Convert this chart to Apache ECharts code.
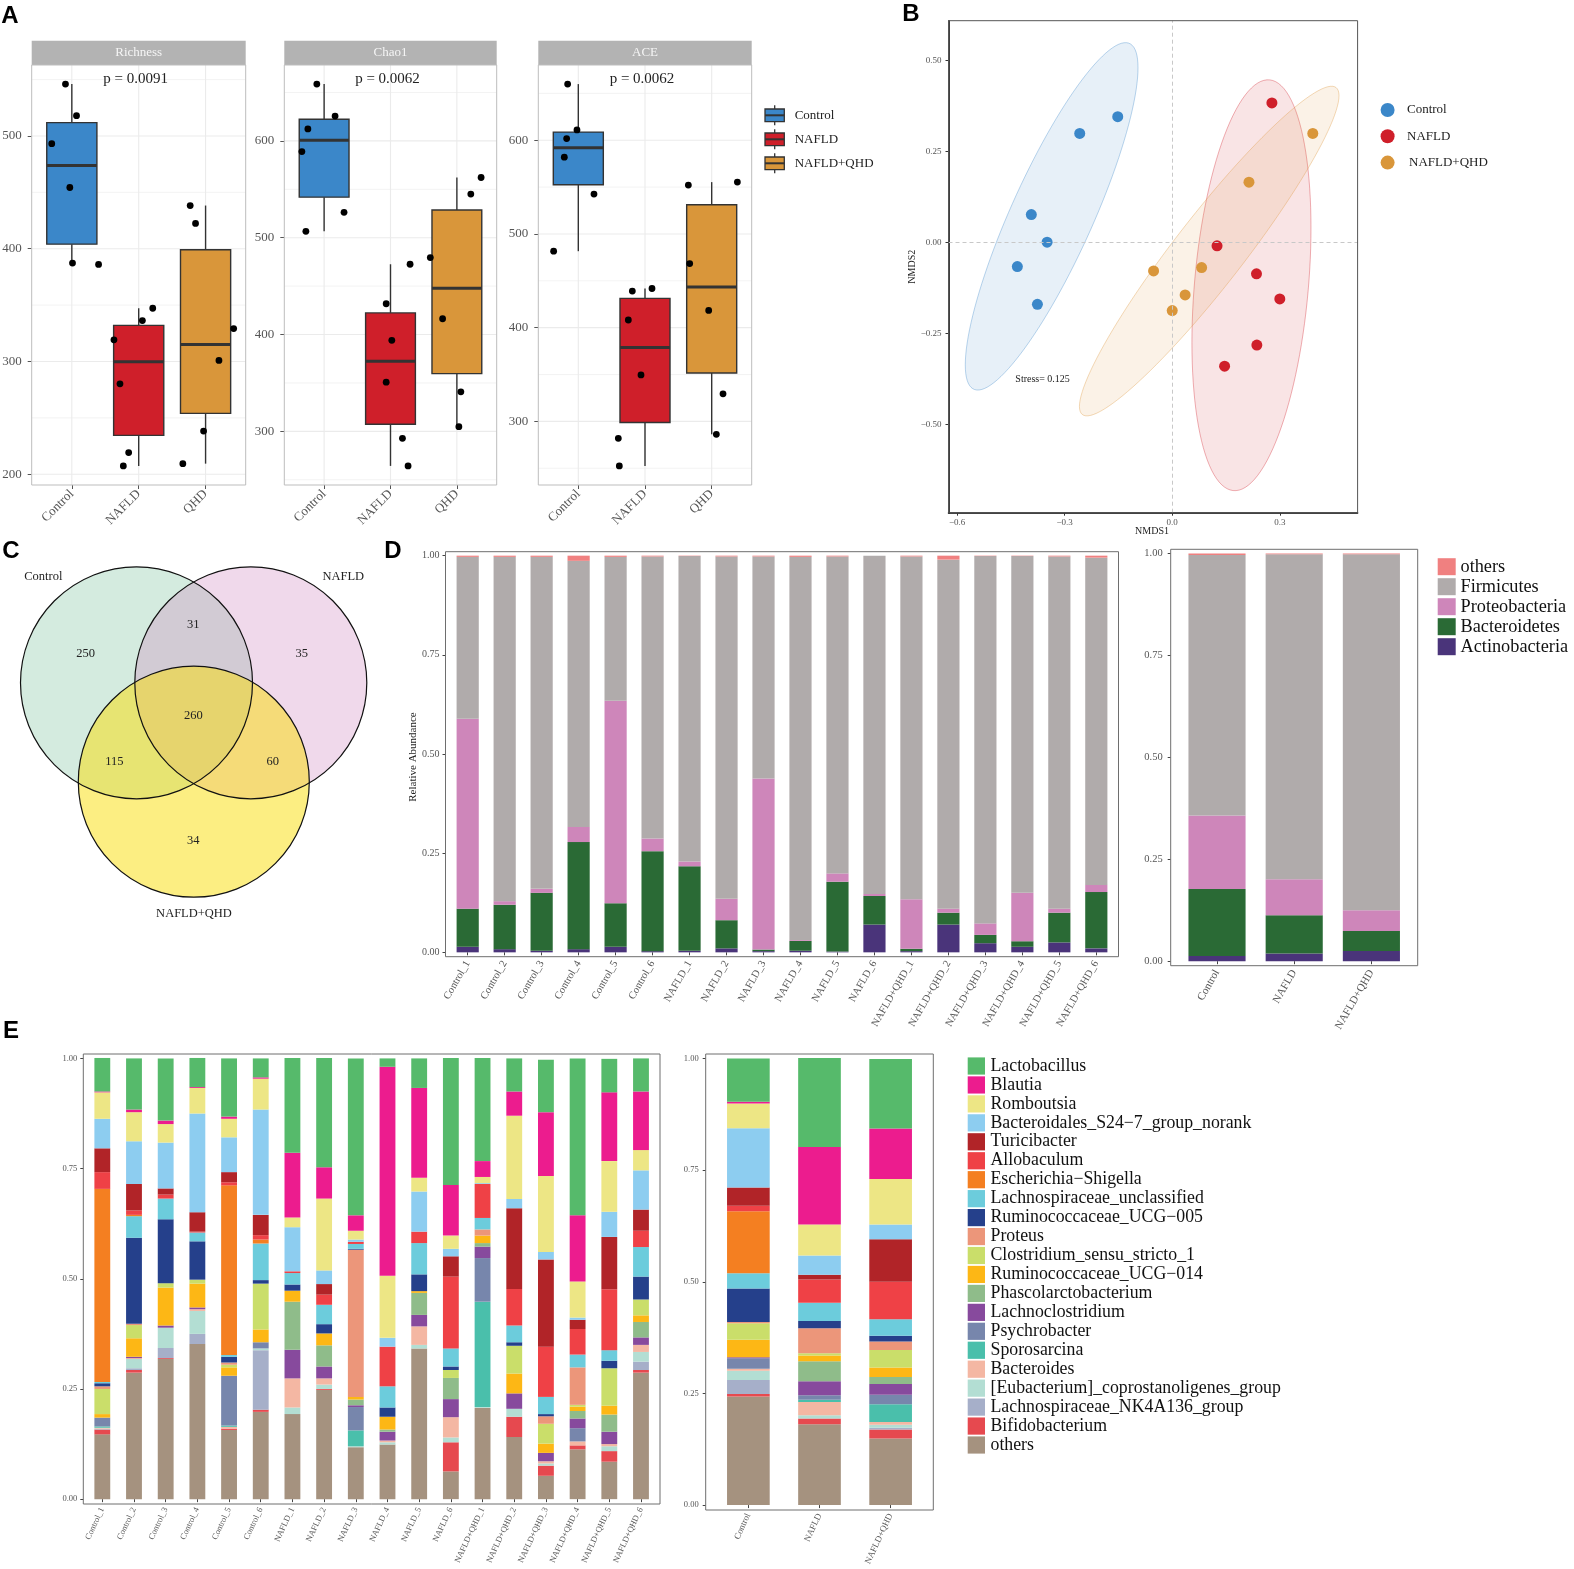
<!DOCTYPE html>
<html><head><meta charset="utf-8">
<script src="https://cdn.jsdelivr.net/npm/echarts@6/dist/echarts.min.js"></script>
<style>html,body{margin:0;padding:0;background:#fff}#c{width:1574px;height:1569px}</style>
</head><body><div id="c"></div>
<script>
// ================= DATA =================
// Panel A: alpha diversity (six samples per group), jitter offsets (in category units)
const alphaGroups = ['Control', 'NAFLD', 'QHD'];
const alphaMetrics = ['Richness', 'Chao1', 'ACE'];
const alphaPValues = ['p = 0.0091', 'p = 0.0062', 'p = 0.0062'];
const richnessValues = [[546.0,518.0,493.2,454.3,387.3,386.1],[347.2,336.3,319.2,280.2,219.2,207.4],[438.3,422.4,329.2,300.9,238.3,209.4]];
const richnessJitter = [[-0.095,0.07,-0.30,-0.03,0.01,0.40],[0.21,0.055,-0.37,-0.28,-0.15,-0.23],[-0.23,-0.15,0.42,0.20,-0.03,-0.34]];
const chao1Values = [[658.7,625.7,612.4,589.0,526.2,506.6],[472.6,431.8,394.0,350.8,292.8,264.3],[562.2,545.1,479.5,416.3,340.8,304.8]];
const chao1Jitter = [[-0.11,0.165,-0.245,-0.335,0.30,-0.275],[0.295,-0.065,0.02,-0.065,0.18,0.265],[0.365,0.21,-0.40,-0.215,0.06,0.03]];
const aceValues = [[659.9,611.0,601.8,581.9,542.6,481.6],[441.8,439.0,408.2,349.6,281.9,252.5],[555.3,552.1,468.4,418.4,329.4,286.2]];
const aceJitter = [[-0.16,-0.02,-0.175,-0.21,0.235,-0.37],[0.105,-0.19,-0.25,-0.06,-0.40,-0.385],[0.385,-0.35,-0.33,-0.045,0.17,0.07]];
const alphaTicks = [[200,300,400,500],[300,400,500,600],[300,400,500,600]];
const legendGroups = ['Control', 'NAFLD', 'NAFLD+QHD'];

// Panel B: NMDS coordinates
const nmdsControl = [[-0.152,0.346],[-0.258,0.300],[-0.393,0.077],[-0.349,0.001],[-0.432,-0.066],[-0.376,-0.170]];
const nmdsNAFLD = [[0.278,0.384],[0.125,-0.009],[0.235,-0.086],[0.300,-0.155],[0.236,-0.282],[0.146,-0.340]];
const nmdsQHD = [[0.392,0.300],[0.214,0.166],[0.082,-0.069],[-0.052,-0.078],[0.036,-0.144],[0.000,-0.187]];
const nmdsXTicks = [-0.6, -0.3, 0, 0.3];
const nmdsYTicks = [-0.5, -0.25, 0, 0.25, 0.5];
const nmdsStress = 0.125;
const ellipseLevel = 0.9;

// Panel C: Venn counts (C only, C∩N, N only, C∩Q, C∩N∩Q, N∩Q, Q only)
const vennSets = ['Control', 'NAFLD', 'NAFLD+QHD'];
const vennCounts = [250, 31, 35, 115, 260, 60, 34];

// Panel D: phylum relative abundance (stack order bottom -> top)
const sampleNames = ['Control_1','Control_2','Control_3','Control_4','Control_5','Control_6','NAFLD_1','NAFLD_2','NAFLD_3','NAFLD_4','NAFLD_5','NAFLD_6','NAFLD+QHD_1','NAFLD+QHD_2','NAFLD+QHD_3','NAFLD+QHD_4','NAFLD+QHD_5','NAFLD+QHD_6'];
const groupNames = ['Control', 'NAFLD', 'NAFLD+QHD'];
const phylaNames = ['Actinobacteria', 'Bacteroidetes', 'Proteobacteria', 'Firmicutes', 'others'];
const actinobacteria = [0.014,0.008,0.004,0.008,0.014,0.003,0.004,0.010,0.003,0.004,0.002,0.070,0.003,0.070,0.023,0.014,0.025,0.010];
const bacteroidetes  = [0.096,0.112,0.146,0.270,0.110,0.252,0.213,0.071,0.004,0.025,0.176,0.072,0.006,0.030,0.021,0.014,0.075,0.142];
const proteobacteria = [0.479,0.009,0.010,0.038,0.510,0.032,0.012,0.054,0.431,0.002,0.021,0.005,0.125,0.010,0.029,0.122,0.010,0.018];
const firmicutes     = [0.408,0.868,0.837,0.671,0.363,0.711,0.770,0.863,0.560,0.966,0.799,0.853,0.864,0.880,0.926,0.849,0.888,0.825];
const othersPhylum   = [0.003,0.003,0.003,0.013,0.003,0.002,0.001,0.002,0.002,0.003,0.002,0.000,0.002,0.010,0.001,0.001,0.002,0.005];
const actinoGroup = [0.013,0.019,0.025];
const bacteroGroup = [0.164,0.094,0.049];
const proteoGroup = [0.180,0.088,0.051];
const firmiGroup = [0.639,0.797,0.873];
const othersGroup = [0.004,0.002,0.002];

// Panel E: genus relative abundance (%), stack order bottom -> top
const genusNames = ['others','Bifidobacterium','Lachnospiraceae_NK4A136_group','[Eubacterium]_coprostanoligenes_group','Bacteroides','Sporosarcina','Psychrobacter','Lachnoclostridium','Phascolarctobacterium','Ruminococcaceae_UCG\u2212014','Clostridium_sensu_stricto_1','Proteus','Ruminococcaceae_UCG\u2212005','Lachnospiraceae_unclassified','Escherichia\u2212Shigella','Allobaculum','Turicibacter','Bacteroidales_S24\u22127_group_norank','Romboutsia','Blautia','Lactobacillus'];
const gControl_1 = [14.7,1.1,0.1,0.1,0.2,0.3,2.0,0,0,0.8,5.7,0.6,0.7,0.3,43.8,3.8,5.4,6.7,6.0,0.2,7.6];
const gControl_2 = [28.7,0.6,0.4,2.1,0.2,0,0,0.3,0,4.2,3.0,0.3,19.5,4.9,0.3,1.0,6.0,9.7,6.6,0.6,11.6];
const gControl_3 = [31.8,0.2,2.3,4.6,0,0,0,0.5,0,8.6,1.0,0,14.5,4.7,0,0.9,1.4,10.4,4.2,0.8,14.1];
const gControl_4 = [35.2,0,2.3,5.2,0.4,0,0,0.4,0,5.4,0.9,0,8.7,2.0,0,0.2,4.4,22.4,5.8,0.2,6.6];
const gControl_5 = [15.7,0.3,0,0,0.4,0.3,11.3,0,0,1.9,0.6,0.5,1.3,0.4,38.5,0.7,2.3,7.9,4.2,0.5,13.2];
const gControl_6 = [19.8,0.5,13.5,0.4,0,0,1.4,0,0,2.9,10.4,0,0.8,8.3,0.9,1.0,4.6,23.9,7.0,0.3,4.3];
const gNAFLD_1 = [19.3,0,0,1.5,6.6,0,0,6.5,10.9,2.5,0,0,1.4,2.6,0,0.4,0,10.0,2.2,14.7,21.5];
const gNAFLD_2 = [24.8,0.2,0,1.0,1.4,0,0,2.7,4.8,2.7,0,0,2.1,4.4,0,2.3,2.4,3.1,16.3,7.1,24.8];
const gNAFLD_3 = [11.8,0,0,0.2,0,3.6,5.3,0.4,1.3,0.6,0,33.4,0.2,1.1,0,0.5,0,0.5,2.0,3.5,35.6];
const gNAFLD_4 = [12.4,0,0,0.5,0.4,0,0,2.0,0.5,2.9,0,0,2.1,4.8,0,9.0,0,2.0,14.1,47.4,1.9];
const gNAFLD_5 = [34.2,0,0,0.8,4.2,0,0,2.6,5.0,0.4,0,0,3.8,7.1,0,2.6,0,9.1,3.1,20.4,6.7];
const gNAFLD_6 = [6.3,6.6,0,1.1,4.6,0,0,4.1,4.8,0,1.8,0,0.8,4.1,0,16.3,4.6,1.7,3.0,11.5,28.8];
const gQHD_1 = [20.7,0,0,0.2,0,23.9,9.9,2.6,0.8,1.7,0,1.4,0,2.6,0,7.7,0,0.2,1.4,3.6,23.4];
const gQHD_2 = [14.1,4.6,0,1.8,0,0,0,3.5,0,4.5,6.3,0,0.8,3.8,0,8.3,18.3,2.1,18.9,5.5,7.5];
const gQHD_3 = [5.3,2.3,0,0.5,0.5,0,0,1.9,0,2.1,4.5,1.7,0.5,3.9,0,11.4,19.8,1.7,17.2,14.5,11.9];
const gQHD_4 = [11.3,0.9,0,0,0.9,0,3.0,2.2,1.7,1.0,0.4,8.5,0,2.9,0,5.8,2.1,0.5,8.2,15.0,35.6];
const gQHD_5 = [8.5,2.4,0,1.1,0.5,0,0,2.8,3.9,2.0,8.5,0,1.7,2.4,0,13.8,11.9,5.7,11.5,15.6,7.6];
const gQHD_6 = [28.7,0.6,1.9,2.2,1.6,0,0,1.7,3.5,1.5,3.6,0,5.2,6.7,0,3.7,4.8,8.9,4.6,13.3,7.5];
const gGroupControl = [24.3,0.6,3.1,2.1,0.4,0,2.4,0.2,0,3.9,3.7,0.3,7.5,3.4,13.9,1.2,4.1,13.3,5.5,0.4,9.7];
const gGroupNAFLD = [18.1,1.3,0,0.7,3.0,0.5,1.0,3.1,4.5,1.3,0.5,5.6,1.6,4.1,0,5.2,1.1,4.3,6.9,17.4,19.9];
const gGroupQHD = [14.9,2.0,0.4,0.7,0.6,4.0,2.1,2.4,1.6,2.1,3.9,1.9,1.3,3.7,0,8.4,9.5,3.3,10.2,11.3,15.6];
const abundanceTicks = [0, 0.25, 0.5, 0.75, 1];

// ================= STYLE / LAYOUT =================
const SERIF = "'Liberation Serif','Times New Roman',serif";
const SANS = "'Liberation Sans',Arial,sans-serif";
const AXC = '#555';
const groupColors = ['#3B87C9', '#CF1F2A', '#D9963A'];
const groupRGB = [[59,135,201],[208,31,42],[220,150,56]];
const phylaColors = ['#4A347A', '#2A6A35', '#CE86BA', '#B0ABAB', '#F08080'];
const genusColors = ['#A5927F','#E6494F','#A6AFC9','#B3DED3','#F4B7A3','#4ABFAB','#7786AC','#874A9D','#8FBC8A','#FDB715','#CADE6A','#EC967A','#25408B','#6CCCDC','#F47F21','#EF4146','#B12428','#8DCDF0','#EDE685','#EC1C8E','#56BA6B'];

const frameA = [{x:31.7,y:65,w:214,h:420},{x:284.3,y:65,w:212.4,h:420},{x:538.3,y:65,w:213.4,h:420}];
const stripTop = 40.7;
const frameB = {x:948.5,y:20.7,w:409.1,h:492};
const frameDL = {x:445.5,y:551.7,w:673,h:405};
const frameDR = {x:1170.7,y:549.3,w:247,h:416.4};
const frameEL = {x:83.3,y:1054,w:576.7,h:450};
const frameER = {x:705.7,y:1054,w:227.6,h:456};

function gridOf(f, n) {
  const u = n ? f.w / (n + 0.2) : 0;
  return { grid: { left: f.x + 0.1 * u, top: f.y, width: f.w - 0.2 * u, height: f.h, containLabel: false, outerBoundsMode: 'none' }, inset: 0.1 * u };
}
function q7(s, p) { const h = (s.length - 1) * p; const lo = Math.floor(h); const hi = Math.min(lo + 1, s.length - 1); return s[lo] + (h - lo) * (s[hi] - s[lo]); }
function boxStats(vals) {
  const s = vals.slice().sort((a, b) => a - b);
  const q1 = q7(s, 0.25), med = q7(s, 0.5), q3 = q7(s, 0.75), iqr = q3 - q1;
  const lo = s.find(v => v >= q1 - 1.5 * iqr);
  const hi = s.slice().reverse().find(v => v <= q3 + 1.5 * iqr);
  return [lo, q1, med, q3, hi];
}
const fmtMinus = (v, d) => (v < 0 ? '\u2212' : '') + Math.abs(v).toFixed(d);

// robust covariance (as MASS::cov.trob) for the group ellipses
function covTrob(pts) {
  const nu = 5, p = 2, n = pts.length;
  let loc = [pts.reduce((s, q) => s + q[0], 0) / n, pts.reduce((s, q) => s + q[1], 0) / n];
  let w = new Array(n).fill(1), X;
  for (let it = 0; it < 25; it++) {
    const w0 = w.slice();
    X = pts.map(q => [q[0] - loc[0], q[1] - loc[1]]);
    const sw = w.reduce((a, b) => a + b, 0);
    let a = 0, b = 0, c = 0;
    X.forEach((d, i) => { a += w[i] / sw * d[0] * d[0]; b += w[i] / sw * d[0] * d[1]; c += w[i] / sw * d[1] * d[1]; });
    const det = a * c - b * b;
    const Q = X.map(d => (c * d[0] * d[0] - 2 * b * d[0] * d[1] + a * d[1] * d[1]) / det);
    w = Q.map(q => (nu + p) / (nu + q));
    const sw2 = w.reduce((s, v) => s + v, 0);
    loc = [pts.reduce((s, q, i) => s + w[i] * q[0], 0) / sw2, pts.reduce((s, q, i) => s + w[i] * q[1], 0) / sw2];
    if (w.every((v, i) => Math.abs(v - w0[i]) < 0.01)) break;
  }
  let a = 0, b = 0, c = 0;
  X.forEach((d, i) => { a += w[i] * d[0] * d[0]; b += w[i] * d[0] * d[1]; c += w[i] * d[1] * d[1]; });
  return { center: loc, cov: [a / n, b / n, c / n] };
}
function ellipseOf(pts) {
  const { center, cov } = covTrob(pts);
  const dfd = pts.length - 1;
  // qf(level, 2, dfd) in closed form for dfn = 2
  const fq = (dfd / 2) * (Math.pow(1 - ellipseLevel, -2 / dfd) - 1);
  const radius = Math.sqrt(2 * fq);
  const a = Math.sqrt(cov[0]), b = cov[1] / a, c = Math.sqrt(Math.max(cov[2] - b * b, 0));
  const out = [];
  for (let i = 0; i <= 120; i++) {
    const t = i / 120 * 2 * Math.PI;
    out.push([center[0] + radius * a * Math.cos(t), center[1] + radius * (b * Math.cos(t) + c * Math.sin(t))]);
  }
  return out;
}

// ================= BUILD OPTION =================
const grids = [], xAxes = [], yAxes = [], series = [], gfx = [];
const alphaValues = [richnessValues, chao1Values, aceValues];
const alphaJitter = [richnessJitter, chao1Jitter, aceJitter];
const TXT = (x, y, text, font, fill, align, extra) => Object.assign({ type: 'text', z: 101, x, y, style: { text, font, fill, textAlign: align, align, textVerticalAlign: 'middle', verticalAlign: 'middle' } }, extra || {});

// ---- Panel A ----
alphaMetrics.forEach((metric, i) => {
  const f = frameA[i];
  const g = gridOf(f, 3);
  grids.push(g.grid);
  const vals = alphaValues[i];
  const all = vals.flat();
  const mn = Math.min(...all), mx = Math.max(...all), r = mx - mn;
  const ymin = mn - 0.05 * r, ymax = mx + 0.05 * r;
  const ticks = alphaTicks[i];
  xAxes.push({ type: 'category', gridIndex: i, data: alphaGroups, axisLine: { show: false },
    axisTick: { show: true, alignWithLabel: true, length: 4, lineStyle: { color: AXC } },
    axisLabel: { rotate: 45, interval: 0, fontSize: 13, fontFamily: SERIF, color: AXC, margin: 7 }, splitLine: { show: false } });
  yAxes.push({ type: 'value', gridIndex: i, min: ymin, max: ymax, offset: g.inset, axisLine: { show: false },
    axisTick: { show: true, length: 4, customValues: ticks, lineStyle: { color: AXC } },
    axisLabel: { customValues: ticks, fontSize: 13, fontFamily: SERIF, color: AXC, margin: 10 }, splitLine: { show: false } });
  const step = ticks[1] - ticks[0];
  const gl = [];
  ticks.forEach(t => gl.push([0, t, 0]));
  for (let v = ticks[0] - step / 2; v <= ymax; v += step) if (v >= ymin) gl.push([0, v, 1]);
  alphaGroups.forEach((_, c) => gl.push([c, 0, 2]));
  series.push({ type: 'custom', xAxisIndex: i, yAxisIndex: i, z: 1, silent: true, encode: { x: 0, y: 1 }, data: gl,
    renderItem: (params, api) => {
      const kind = api.value(2);
      if (kind === 2) {
        const x = api.coord([api.value(0), ymin])[0];
        return { type: 'line', shape: { x1: x, y1: f.y, x2: x, y2: f.y + f.h }, style: { stroke: '#EBEBEB', lineWidth: 1.1 } };
      }
      const y = api.coord([0, api.value(1)])[1];
      return { type: 'line', shape: { x1: f.x, y1: y, x2: f.x + f.w, y2: y }, style: { stroke: '#EBEBEB', lineWidth: kind === 0 ? 1.1 : 0.6 } };
    } });
  series.push({ type: 'custom', xAxisIndex: i, yAxisIndex: i, z: 2, silent: true, encode: { x: 0, y: 3 },
    data: vals.map((v, c) => [c].concat(boxStats(v))),
    renderItem: (params, api) => {
      const c = api.value(0);
      const band = api.size([1, 0])[0];
      const hw = band * 0.75 / 2;
      const P = v => api.coord([c, v]);
      const xc = P(api.value(3))[0];
      const yLo = P(api.value(1))[1], yQ1 = P(api.value(2))[1], yMed = P(api.value(3))[1], yQ3 = P(api.value(4))[1], yHi = P(api.value(5))[1];
      const st = { stroke: '#333', lineWidth: 1.4 };
      return { type: 'group', children: [
        { type: 'line', shape: { x1: xc, y1: yHi, x2: xc, y2: yQ3 }, style: st },
        { type: 'line', shape: { x1: xc, y1: yQ1, x2: xc, y2: yLo }, style: st },
        { type: 'rect', shape: { x: xc - hw, y: yQ3, width: 2 * hw, height: yQ1 - yQ3 }, style: { fill: groupColors[c], stroke: '#333', lineWidth: 1.4 } },
        { type: 'line', shape: { x1: xc - hw, y1: yMed, x2: xc + hw, y2: yMed }, style: { stroke: '#333', lineWidth: 3 } }
      ] };
    } });
  const pts = [];
  vals.forEach((arr, c) => arr.forEach((v, k) => pts.push([c, v, alphaJitter[i][c][k]])));
  series.push({ type: 'custom', xAxisIndex: i, yAxisIndex: i, z: 3, silent: true, encode: { x: 0, y: 1 }, data: pts,
    renderItem: (params, api) => {
      const band = api.size([1, 0])[0];
      const p = api.coord([api.value(0), api.value(1)]);
      return { type: 'circle', shape: { cx: p[0] + api.value(2) * band, cy: p[1], r: 3.4 }, style: { fill: '#000' } };
    } });
  gfx.push({ type: 'rect', z: 100, shape: { x: f.x, y: stripTop, width: f.w, height: f.y - stripTop }, style: { fill: '#B3B3B3' } });
  gfx.push(TXT(f.x + f.w / 2, (stripTop + f.y) / 2, metric, '13px ' + SERIF, '#F5F5F5', 'center'));
  gfx.push({ type: 'rect', z: 100, shape: { x: f.x, y: f.y, width: f.w, height: f.h }, style: { fill: 'none', stroke: '#BDBDBD', lineWidth: 1 } });
  gfx.push(TXT(f.x + f.w / 2 - 3, 79, alphaPValues[i], '15px ' + SERIF, '#222', 'center'));
});
legendGroups.forEach((name, k) => {
  const cy = 115.3 + 24 * k;
  gfx.push({ type: 'line', z: 100, shape: { x1: 774.7, y1: cy - 10, x2: 774.7, y2: cy + 10 }, style: { stroke: '#333', lineWidth: 1.3 } });
  gfx.push({ type: 'rect', z: 101, shape: { x: 765, y: cy - 6.3, width: 19.3, height: 12.6 }, style: { fill: groupColors[k], stroke: '#333', lineWidth: 1.3 } });
  gfx.push({ type: 'line', z: 102, shape: { x1: 765, y1: cy, x2: 784.3, y2: cy }, style: { stroke: '#333', lineWidth: 2 } });
  gfx.push(TXT(794.7, cy, name, '13px ' + SERIF, '#222', 'left'));
});

// ---- Panel B ----
const nmdsSets = [nmdsControl, nmdsNAFLD, nmdsQHD];
const ellipses = nmdsSets.map(ellipseOf);
{
  const g = gridOf(frameB, 0);
  grids.push(g.grid);
  xAxes.push({ type: 'value', gridIndex: 3, min: -0.624, max: 0.517,
    axisLine: { show: true, onZero: false, lineStyle: { color: '#000', width: 1.5 } },
    axisTick: { show: true, length: 3, customValues: nmdsXTicks, lineStyle: { color: '#333' } },
    axisLabel: { customValues: nmdsXTicks, formatter: v => fmtMinus(v, 1), fontSize: 9, fontFamily: SERIF, color: AXC, margin: 5 }, splitLine: { show: false } });
  yAxes.push({ type: 'value', gridIndex: 3, min: -0.743, max: 0.61,
    axisLine: { show: true, onZero: false, lineStyle: { color: '#000', width: 1.5 } },
    axisTick: { show: true, length: 3, customValues: nmdsYTicks, lineStyle: { color: '#333' } },
    axisLabel: { customValues: nmdsYTicks, formatter: v => fmtMinus(v, 2), fontSize: 9, fontFamily: SERIF, color: AXC, margin: 7 }, splitLine: { show: false } });
  series.push({ type: 'custom', xAxisIndex: 3, yAxisIndex: 3, z: 1, silent: true, data: [[0, 0], [1, 0], [2, 0]],
    renderItem: (params, api) => {
      const k = params.dataIndex; const c = groupRGB[k];
      return { type: 'polygon', shape: { points: ellipses[k].map(p => api.coord(p)) },
        style: { fill: `rgba(${c[0]},${c[1]},${c[2]},0.12)`, stroke: `rgba(${c[0]},${c[1]},${c[2]},0.35)`, lineWidth: 1 } };
    } });
  nmdsSets.forEach((pts, k) => {
    const s = { type: 'scatter', name: legendGroups[k], xAxisIndex: 3, yAxisIndex: 3, z: 3, symbolSize: 11, data: pts, itemStyle: { color: groupColors[k], opacity: 1 } };
    if (k === 0) s.markLine = { silent: true, symbol: ['none', 'none'], label: { show: false }, lineStyle: { color: '#C8C8C8', type: [4, 3], width: 1 }, data: [{ xAxis: 0 }, { yAxis: 0 }] };
    series.push(s);
  });
  gfx.push({ type: 'rect', z: 100, shape: { x: frameB.x, y: frameB.y, width: frameB.w, height: frameB.h }, style: { fill: 'none', stroke: '#555', lineWidth: 1 } });
  gfx.push(TXT(1042.6, 379.3, 'Stress= ' + nmdsStress, '10px ' + SERIF, '#222', 'center'));
  gfx.push(TXT(1152, 531, 'NMDS1', '10px ' + SERIF, '#222', 'center'));
  gfx.push(TXT(912.5, 266.7, 'NMDS2', '10px ' + SERIF, '#222', 'center', { rotation: Math.PI / 2 }));
  legendGroups.forEach((name, k) => {
    const cy = 110 + 26.3 * k;
    gfx.push({ type: 'circle', z: 101, shape: { cx: 1387.6, cy: cy, r: 7 }, style: { fill: groupColors[k] } });
    gfx.push(TXT(1407 + (k === 2 ? 2 : 0), cy, name, '13px ' + SERIF, '#222', 'left'));
  });
}

// ---- Panel C (Venn) ----
{
  const circles = [
    { cx: 136.5, cy: 682.8, r: 116, fill: 'rgba(112,188,148,0.3)' },
    { cx: 250.8, cy: 682.8, r: 116, fill: 'rgba(205,128,188,0.3)' },
    { cx: 193.8, cy: 781.7, r: 115.5, fill: 'rgba(249,221,5,0.5)' }
  ];
  circles.forEach(c => gfx.push({ type: 'circle', z: 10, shape: { cx: c.cx, cy: c.cy, r: c.r }, style: { fill: c.fill } }));
  circles.forEach(c => gfx.push({ type: 'circle', z: 11, shape: { cx: c.cx, cy: c.cy, r: c.r }, style: { fill: 'none', stroke: '#111', lineWidth: 1.2 } }));
  const setLabelPos = [[43.3, 576.7], [343.3, 576.7], [194, 914]];
  vennSets.forEach((s, k) => gfx.push(TXT(setLabelPos[k][0], setLabelPos[k][1], s, '12.5px ' + SERIF, '#222', 'center')));
  const regionPos = [[85.7, 653.7], [193.3, 624.3], [301.7, 653.7], [114.3, 761.7], [193.3, 716], [272.7, 761.7], [193.3, 841]];
  vennCounts.forEach((n, k) => gfx.push(TXT(regionPos[k][0], regionPos[k][1], String(n), '12.5px ' + SERIF, '#222', 'center')));
}

// ---- stacked bar helper ----
function barPanel(idx, frame, cats, seriesNames, seriesData, colors, barW, labelCfg, yLabelSize, yMargin) {
  const g = gridOf(frame, cats.length);
  grids.push(g.grid);
  xAxes.push({ type: 'category', gridIndex: idx, data: cats, axisLine: { show: false },
    axisTick: { show: true, alignWithLabel: true, length: 3, lineStyle: { color: '#444' } },
    axisLabel: Object.assign({ interval: 0, fontFamily: SERIF, color: AXC }, labelCfg), splitLine: { show: false } });
  yAxes.push({ type: 'value', gridIndex: idx, min: -0.011, max: 1.01, offset: g.inset, axisLine: { show: false },
    axisTick: { show: true, length: 3, customValues: abundanceTicks, lineStyle: { color: '#444' } },
    axisLabel: { customValues: abundanceTicks, formatter: v => v.toFixed(2), fontSize: yLabelSize, fontFamily: SERIF, color: AXC, margin: yMargin }, splitLine: { show: false } });
  seriesNames.forEach((name, k) => series.push({ type: 'bar', name, xAxisIndex: idx, yAxisIndex: idx, stack: 'st' + idx, barWidth: barW,
    data: seriesData[k], itemStyle: { color: colors[k] }, silent: true }));
  gfx.push({ type: 'rect', z: 100, shape: { x: frame.x, y: frame.y, width: frame.w, height: frame.h }, style: { fill: 'none', stroke: '#6E6E6E', lineWidth: 1 } });
}

// ---- Panel D ----
barPanel(4, frameDL, sampleNames, phylaNames, [actinobacteria, bacteroidetes, proteobacteria, firmicutes, othersPhylum], phylaColors, '60%', { rotate: 60, fontSize: 10.5, margin: 5 }, 10, 6);
barPanel(5, frameDR, groupNames, phylaNames, [actinoGroup, bacteroGroup, proteoGroup, firmiGroup, othersGroup], phylaColors, '74%', { rotate: 60, fontSize: 11, margin: 5 }, 10.5, 8);
gfx.push(TXT(413, 757, 'Relative Abundance', '11px ' + SERIF, '#222', 'center', { rotation: Math.PI / 2 }));
phylaNames.slice().reverse().forEach((name, k) => {
  const cy = 566.7 + 20 * k;
  const ci = phylaNames.length - 1 - k;
  gfx.push({ type: 'rect', z: 101, shape: { x: 1437.7, y: cy - 8.5, width: 18, height: 17 }, style: { fill: phylaColors[ci] } });
  gfx.push(TXT(1460.5, cy, name, '18.3px ' + SERIF, '#111', 'left'));
});

// ---- Panel E ----
const eSamples = [gControl_1, gControl_2, gControl_3, gControl_4, gControl_5, gControl_6, gNAFLD_1, gNAFLD_2, gNAFLD_3, gNAFLD_4, gNAFLD_5, gNAFLD_6, gQHD_1, gQHD_2, gQHD_3, gQHD_4, gQHD_5, gQHD_6];
const eGroups = [gGroupControl, gGroupNAFLD, gGroupQHD];
const byGenus = arr => genusNames.map((_, k) => arr.map(s => s[k] / 100));
barPanel(6, frameEL, sampleNames, genusNames, byGenus(eSamples), genusColors, '50%', { rotate: 65, fontSize: 8.5, margin: 4 }, 8.5, 6);
barPanel(7, frameER, groupNames, genusNames, byGenus(eGroups), genusColors, '60%', { rotate: 65, fontSize: 9, margin: 4 }, 8.5, 7);
genusNames.slice().reverse().forEach((name, k) => {
  const cy = 1066 + 18.95 * k;
  const ci = genusNames.length - 1 - k;
  gfx.push({ type: 'rect', z: 101, shape: { x: 967.7, y: cy - 8.6, width: 17.3, height: 17.2 }, style: { fill: genusColors[ci] } });
  gfx.push(TXT(990.5, cy, name, '17.8px ' + SERIF, '#111', 'left'));
});

// ---- panel letters ----
[['A', 10, 16], ['B', 911, 14], ['C', 11, 551], ['D', 393, 551], ['E', 11, 1031]].forEach(([t, x, y]) =>
  gfx.push(TXT(x, y, t, 'bold 24px ' + SANS, '#000', 'center', { z: 120 })));

const chart = echarts.init(document.getElementById('c'), null, { renderer: 'canvas', width: 1574, height: 1569 });
chart.setOption({
  animation: false,
  backgroundColor: '#fff',
  textStyle: { fontFamily: SERIF },
  grid: grids,
  xAxis: xAxes,
  yAxis: yAxes,
  series: series,
  graphic: { elements: gfx }
});
</script>
</body></html>
